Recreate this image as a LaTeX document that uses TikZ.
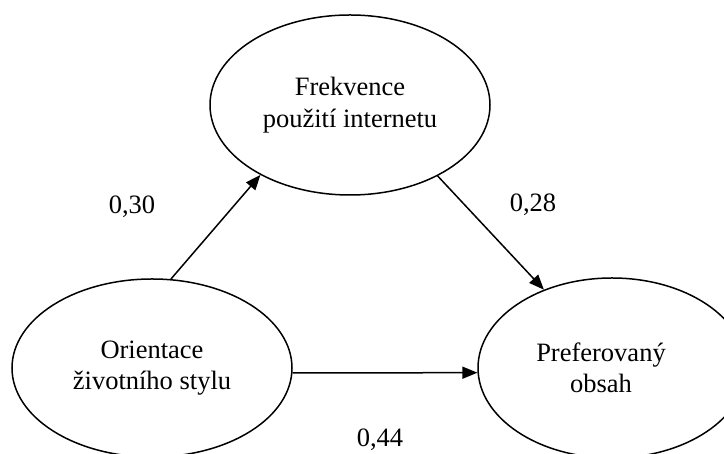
\documentclass[tikz,border=0pt]{standalone}
\usepackage{fontspec}
\setmainfont{Liberation Serif}
\usetikzlibrary{arrows.meta,shapes.geometric}

\tikzset{
  construct/.style={draw, ellipse, line width=1.5pt, inner sep=0pt},
  caption/.style={align=center, font=\fontsize{26.5}{31.5}\selectfont},
  coef/.style={font=\fontsize{26.5}{31.5}\selectfont},
  link/.style={line width=1.5pt, -{Triangle[length=15pt,width=12pt]}}
}

\begin{document}
\begin{tikzpicture}[x=1pt,y=1pt]
  \useasboundingbox (0,0) rectangle (724,454);

  % the three constructs
  \node[construct, minimum width=280pt, minimum height=180pt] (freq) at (350,349) {};
  \node[construct, minimum width=280pt, minimum height=178pt] (life) at (152,86) {};
  \node[construct, minimum width=268pt, minimum height=180pt] (pref) at (612,86) {};

  \node[caption] (freqtext) at (freq.center) {Frekvence\\použití internetu};
  \node[caption] (lifetext) at (life.center) {Orientace\\životního stylu};
  \node[caption] (preftext) at (601,86) {Preferovaný\\obsah};

  % path coefficients
  \draw[link] (life.78) -- (freq.218);
  \draw[link] (freq.-39) -- (pref.131);
  \draw[link] (life.-2) -- (pref.182);

  \node[coef] (c1) at (132,247) {0,30};
  \node[coef] (c2) at (533,249) {0,28};
  \node[coef] (c3) at (380,14) {0,44};
\end{tikzpicture}
\end{document}
